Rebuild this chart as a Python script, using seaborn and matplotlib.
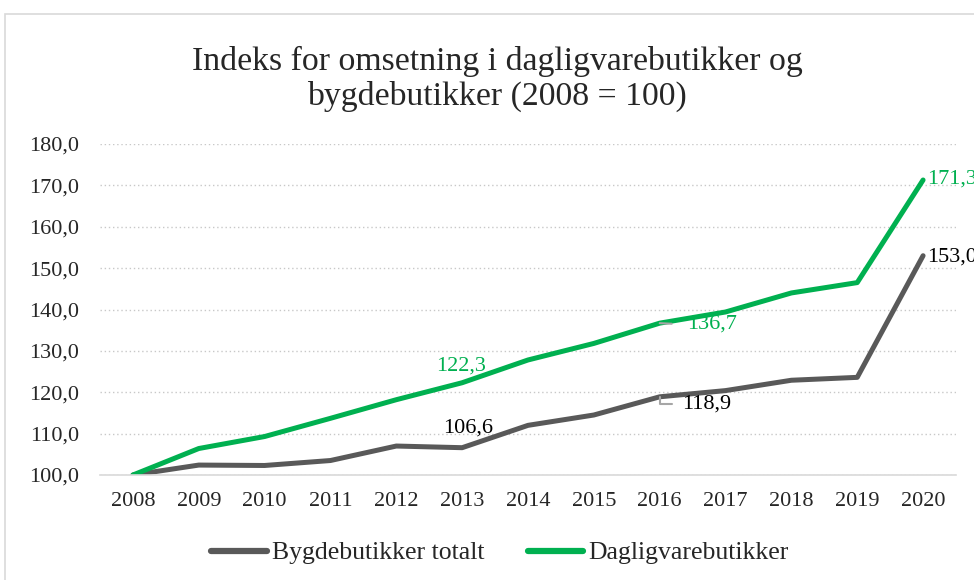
import pandas as pd
import seaborn as sns
import matplotlib.pyplot as plt
from matplotlib.patches import Rectangle

years = [2008, 2009, 2010, 2011, 2012, 2013, 2014, 2015, 2016, 2017, 2018, 2019, 2020]
bygde = [100.0, 102.4, 102.3, 103.5, 107.0, 106.6, 112.0, 114.5, 118.9, 120.4, 122.9, 123.6, 153.0]
dagligvare = [100.0, 106.4, 109.3, 113.7, 118.2, 122.3, 127.8, 131.8, 136.7, 139.4, 144.0, 146.5, 171.3]
series_names = ["Bygdebutikker totalt", "Dagligvarebutikker"]
colors = ["#595959", "#00B050"]

df = pd.concat([
    pd.DataFrame({"år": years, "indeks": bygde, "serie": series_names[0]}),
    pd.DataFrame({"år": years, "indeks": dagligvare, "serie": series_names[1]}),
])

sns.set_style("white")
plt.rcParams['font.family'] = ['Liberation Serif', 'DejaVu Serif']

fig = plt.figure(figsize=(9.74, 5.8), dpi=100)
fig.patches.append(Rectangle((5 / 974, -0.1), 1.2, 1 - 14 / 580 + 0.1, transform=fig.transFigure,
                             fill=False, edgecolor="#d9d9d9", linewidth=1.2))
ax = fig.add_axes([100 / 974, 1 - 475 / 580, 856 / 974, 331 / 580])

sns.lineplot(data=df, x="år", y="indeks", hue="serie", palette=colors, linewidth=3.6,
             ax=ax, legend=False, solid_capstyle="round", solid_joinstyle="round")

ax.set_xlim(2007.5, 2020.5)
ax.set_ylim(100, 180)
ax.set_xticks(years)
ax.set_xticklabels([str(y) for y in years], fontsize=16)
ax.set_yticks(range(100, 181, 10))
ax.set_yticklabels([f"{v},0" for v in range(100, 181, 10)], fontsize=16)
ax.tick_params(axis="y", length=0, pad=15)
ax.tick_params(axis="x", length=0, pad=12)
ax.grid(axis="y", linestyle=(0, (1, 2)), color="#c8c8c8", linewidth=1)
for s in ["top", "right", "left"]:
    ax.spines[s].set_visible(False)
ax.spines["bottom"].set_color("#d9d9d9")
ax.spines["bottom"].set_linewidth(1.2)
ax.set_xlabel("")
ax.set_ylabel("")

def fmt(v):
    return f"{v:.1f}".replace(".", ",")

# data labels (the two at 2020 run off the right edge, as in the original)
lab = dict(fontsize=16, textcoords="offset points", annotation_clip=False)
ax.annotate(fmt(bygde[5]), (years[5], bygde[5]), xytext=(4, 14.5), ha="center", va="center",
            color="black", **lab)
ax.annotate(fmt(dagligvare[5]), (years[5], dagligvare[5]), xytext=(-1, 12), ha="center", va="center",
            color=colors[1], **lab)
ax.annotate(fmt(bygde[8]), (years[8], bygde[8]), xytext=(16.5, -5), ha="left", va="center",
            color="black",
            arrowprops=dict(arrowstyle="-", color="#a6a6a6", lw=1.5, relpos=(0, 0.5),
                            connectionstyle="angle,angleA=0,angleB=90,rad=0", shrinkA=5, shrinkB=0),
            **lab)
ax.annotate(fmt(dagligvare[8]), (years[8], dagligvare[8]), xytext=(20, -1), ha="left", va="center",
            color=colors[1],
            arrowprops=dict(arrowstyle="-", color="#a6a6a6", lw=1.5, relpos=(0, 0.5),
                            shrinkA=9, shrinkB=0),
            **lab)
ax.annotate(fmt(bygde[12]), (years[12], bygde[12]), xytext=(3, -1), ha="left", va="center",
            color="black", **lab)
ax.annotate(fmt(dagligvare[12]), (years[12], dagligvare[12]), xytext=(3, 1), ha="left", va="center",
            color=colors[1], **lab)

fig.suptitle("Indeks for omsetning i dagligvarebutikker og\nbygdebutikker (2008 = 100)",
             x=497 / 974, y=1 - 46 / 580, fontsize=24.3, linespacing=1.15, va="top")

handles = [plt.Line2D([], [], color=c, linewidth=4.5, solid_capstyle="round") for c in colors]
fig.legend(handles, series_names, loc="center", bbox_to_anchor=(500 / 974, 1 - 553 / 580),
           ncol=2, frameon=False, fontsize=18.5, handlelength=2.15, handletextpad=0.2, columnspacing=1.7)

fig.savefig("out.png", dpi=100)
